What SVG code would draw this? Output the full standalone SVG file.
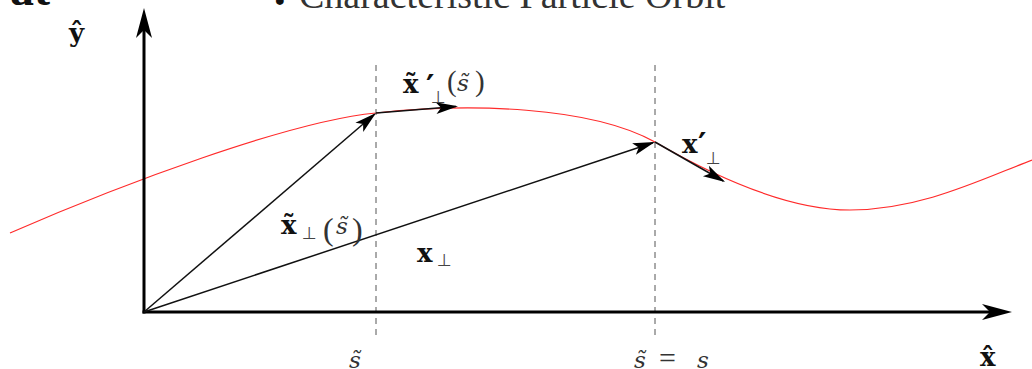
<svg xmlns="http://www.w3.org/2000/svg" width="1032" height="369" viewBox="0 0 1032 369">
<style>
.bx{font-family:"DejaVu Serif",serif;font-weight:bold;fill:#111}
.rm{font-family:"Liberation Serif","Times New Roman",serif;fill:#333}
.it{font-family:"DejaVu Serif",serif;font-style:italic;fill:#333}
.perp{font-family:"DejaVu Sans",sans-serif;fill:#444}
.pr{font-family:"DejaVu Sans",sans-serif;font-weight:bold;fill:#111}
.axis{stroke:#000;stroke-width:3;fill:none}
.vec{stroke:#111;stroke-width:1.5;fill:none;marker-end:url(#vh)}
.dash{stroke:#555;stroke-width:1;stroke-dasharray:6 5;fill:none}
</style>
<defs>
<marker id="ah" markerUnits="userSpaceOnUse" orient="auto" overflow="visible" refX="0" refY="0">
<path d="M8,0 L-22,-8 L-14,0 L-22,8 Z" fill="#000"/>
</marker>
<marker id="vh" markerUnits="userSpaceOnUse" orient="auto" overflow="visible" refX="0" refY="0">
<path d="M2,0 L-20,-6 L-15,0 L-20,6 Z" fill="#000"/>
</marker>
</defs>
<rect width="1032" height="369" fill="#fff"/>
<g id="title">
<text x="10" y="5" font-family="Liberation Serif,serif" font-weight="bold" font-size="48" fill="#111">at</text>
<text x="272" y="4.5" font-family="Liberation Serif,serif" font-weight="bold" font-size="48" fill="#111">:</text>
<text x="299" y="7.5" font-family="Liberation Serif,serif" font-size="38" fill="#333">Characteristic Particle Orbit</text>
</g>
<g id="orbit">
<path d="M10,233 C120,185 290,121 376,113 C470,103 590,106 655,142 C700,168 780,210 850,210 C920,210 980,180 1032,160" fill="none" stroke="#ff2a2a" stroke-width="1.2"/>
</g>
<g id="guides">
<line class="dash" x1="376" y1="65" x2="376" y2="336"/>
<line class="dash" x1="655" y1="65" x2="655" y2="336"/>
</g>
<g id="axes">
<line class="axis" x1="144" y1="313.5" x2="144" y2="16" marker-end="url(#ah)"/>
<line class="axis" x1="142.5" y1="312" x2="1004" y2="312" marker-end="url(#ah)"/>
</g>
<g id="connectors">
<line class="vec" x1="144" y1="312" x2="374.5" y2="114.3"/>
<line class="vec" x1="144" y1="312" x2="653" y2="142.7"/>
<line class="vec" x1="376" y1="113" x2="456" y2="106.5"/>
<line class="vec" x1="655" y1="142" x2="723.3" y2="181"/>
</g>
<g id="label-xtilde-prime">
<text class="bx" x="403" y="93" font-size="26">x̃</text>
<text class="pr" x="426" y="97" font-size="32">′</text>
<text class="perp" x="431" y="103" font-size="17">⊥</text>
<text class="rm" x="447" y="91" font-size="29">(</text>
<text class="it" x="457" y="91" font-size="23">s̃</text>
<text class="rm" x="475" y="91" font-size="29">)</text>
</g>
<g id="label-x-prime">
<text class="bx" x="682" y="153" font-size="26">x</text>
<text class="pr" x="698" y="155" font-size="32">′</text>
<text class="perp" x="706" y="164" font-size="17">⊥</text>
</g>
<g id="label-xtilde">
<text class="bx" x="281" y="234" font-size="26">x̃</text>
<text class="perp" x="302" y="239" font-size="17">⊥</text>
<text class="rm" x="323" y="240" font-size="32">(</text>
<text class="it" x="336" y="234" font-size="23">s̃</text>
<text class="rm" x="352" y="240" font-size="32">)</text>
</g>
<g id="label-x">
<text class="bx" x="417" y="262" font-size="26">x</text>
<text class="perp" x="437" y="266" font-size="17">⊥</text>
</g>
<g id="label-stilde">
<text class="it" x="349" y="368" font-size="23">s̃</text>
</g>
<g id="label-stilde-eq-s">
<text class="it" x="634" y="368" font-size="23">s̃</text>
<text class="rm" x="659" y="368" font-size="30">=</text>
<text class="it" x="697" y="368" font-size="23">s</text>
</g>
<g id="label-xhat">
<text class="bx" x="980" y="366" font-size="26">x̂</text>
</g>
<g id="label-yhat">
<text class="bx" x="69" y="42" font-size="26">ŷ</text>
</g>
</svg>
